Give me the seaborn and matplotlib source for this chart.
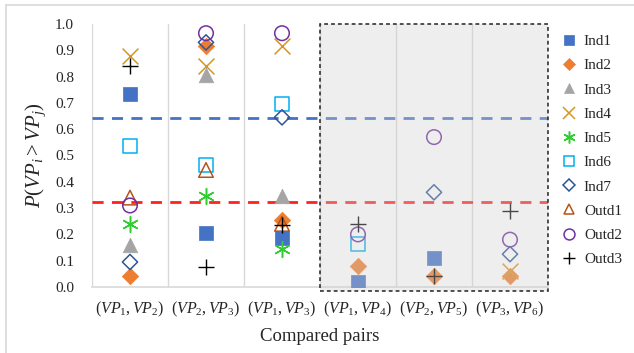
import numpy as np
import pandas as pd
import matplotlib
matplotlib.use("Agg")
import matplotlib.pyplot as plt
import matplotlib.patches as mpatches
import matplotlib.lines as mlines
import seaborn as sns

sns.set_style("white")
plt.rcParams['font.family'] = ['Liberation Serif', 'DejaVu Serif']
plt.rcParams['mathtext.fontset'] = 'custom'
plt.rcParams['mathtext.rm'] = 'Liberation Serif'
plt.rcParams['mathtext.it'] = 'Liberation Serif:italic'

categories = [r"$(VP_1,VP_2)$", r"$(VP_2,VP_3)$", r"$(VP_1,VP_3)$",
              r"$(VP_1,VP_4)$", r"$(VP_2,VP_5)$", r"$(VP_3,VP_6)$"]
nan = np.nan
Ind1 = [0.735, 0.205, 0.185, 0.02, 0.11, nan]
Ind2 = [0.04, 0.915, 0.255, 0.08, 0.04, 0.04]
Ind3 = [0.16, 0.805, 0.345, nan, nan, nan]
Ind4 = [0.88, 0.84, 0.915, nan, nan, 0.06]
Ind5 = [0.24, 0.345, 0.145, nan, nan, nan]
Ind6 = [0.535, 0.465, 0.695, 0.165, nan, nan]
Ind7 = [0.095, 0.93, 0.645, nan, 0.36, 0.125]
Outd1 = [0.34, 0.445, 0.24, nan, nan, nan]
Outd2 = [0.31, 0.965, 0.965, 0.20, 0.57, 0.18]
Outd3 = [0.84, 0.075, 0.235, 0.24, 0.04, 0.29]
blue_line = 0.643
red_line = 0.323

series = {"Ind1": Ind1, "Ind2": Ind2, "Ind3": Ind3, "Ind4": Ind4, "Ind5": Ind5,
          "Ind6": Ind6, "Ind7": Ind7, "Outd1": Outd1, "Outd2": Outd2, "Outd3": Outd3}

styles = {
    "Ind1": dict(marker="s", fc="#4472C4", ec="#4472C4", s=110, lw=0.5),
    "Ind2": dict(marker="D", fc="#ED7D31", ec="#ED7D31", s=70, lw=0.5),
    "Ind3": dict(marker="^", fc="#A5A5A5", ec="#A5A5A5", s=110, lw=0.5),
    "Ind4": dict(marker="x", fc="#D8951E", ec="#D8951E", s=130, lw=1.1),
    "Ind5": dict(marker=(6, 2, 0), fc="#33CC33", ec="#33CC33", s=130, lw=1.1),
    "Ind6": dict(marker="s", fc="none", ec="#00B0F0", s=100, lw=1.1),
    "Ind7": dict(marker="D", fc="none", ec="#2F5597", s=60, lw=1.1),
    "Outd1": dict(marker="^", fc="none", ec="#B5541A", s=110, lw=1.1),
    "Outd2": dict(marker="o", fc="none", ec="#7030A0", s=110, lw=1.1),
    "Outd3": dict(marker="+", fc="black", ec="black", s=130, lw=1.0),
}

rows = []
for name, vals in series.items():
    for c, v in zip(categories, vals):
        rows.append(dict(pair=c, series=name, value=v))
df = pd.DataFrame(rows)

fig = plt.figure(figsize=(6.34, 3.53), dpi=100)
ax = fig.add_axes([92/634, 1-287/353, (548-92)/634, (287-24)/353])

handles = []
for name in series:
    st = styles[name]
    sub = df[df.series == name]
    sns.scatterplot(data=sub, x="pair", y="value", ax=ax, marker=st["marker"],
                    s=st["s"], color=st["ec"], facecolor=st["fc"], edgecolor=st["ec"],
                    linewidth=st["lw"], zorder=3, legend=False)
    handles.append(mlines.Line2D([], [], linestyle="none", marker=st["marker"],
                                 markersize=np.sqrt(st["s"]) * 0.75,
                                 markerfacecolor=st["fc"], markeredgecolor=st["ec"],
                                 markeredgewidth=st["lw"], label=name))

ax.set_xlim(-0.5, 5.5)
ax.set_ylim(0, 1.0)
ax.set_yticks(np.arange(0, 1.01, 0.1))
ax.set_yticklabels([f"{v:.1f}" for v in np.arange(0, 1.01, 0.1)], fontsize=11)
ax.tick_params(axis="x", labelsize=11.5, pad=9, length=0)
ax.tick_params(axis="y", pad=13, length=0)

for xb in np.arange(-0.5, 5.6, 1.0):
    ax.axvline(xb, color="#D9D9D9", lw=1.0, zorder=1)
for sp in ["top", "right", "left"]:
    ax.spines[sp].set_visible(False)
ax.spines["bottom"].set_color("#D9D9D9")
ax.spines["bottom"].set_linewidth(1.2)

ax.axhline(blue_line, color="#4472C4", lw=2, ls=(0, (4, 3)), zorder=2)
ax.axhline(red_line, color="#FF2020", lw=2, ls=(0, (4, 3)), zorder=2)

shade = mpatches.Rectangle((2.5, -0.017), 3.0, 1.017, transform=ax.transData,
                           facecolor="#CFCFCF", alpha=0.35, edgecolor="none",
                           zorder=4, clip_on=False)
ax.add_patch(shade)
box = mpatches.Rectangle((2.5, -0.017), 3.0, 1.017, transform=ax.transData,
                         facecolor="none", edgecolor="#222222", lw=1.1,
                         ls=(0, (2.5, 2)), zorder=5, clip_on=False)
ax.add_patch(box)

ax.set_xlabel("Compared pairs", fontsize=13.5, labelpad=7)
ax.set_ylabel(r"$P(VP_i > VP_j)$", fontsize=15, labelpad=5)

leg = ax.legend(handles=handles, loc="upper left", bbox_to_anchor=(1.01, 0.995),
                frameon=False, fontsize=11, handletextpad=0.45, labelspacing=0.69,
                handlelength=1.0, borderaxespad=0.2)

fig.add_artist(mlines.Line2D([6/634, 1.0], [1-5/353, 1-5/353], transform=fig.transFigure,
                             color="#D9D9D9", lw=1.2))
fig.add_artist(mlines.Line2D([6/634, 6/634], [0, 1-5/353], transform=fig.transFigure,
                             color="#D9D9D9", lw=1.2))

fig.savefig("out.png", dpi=100)
